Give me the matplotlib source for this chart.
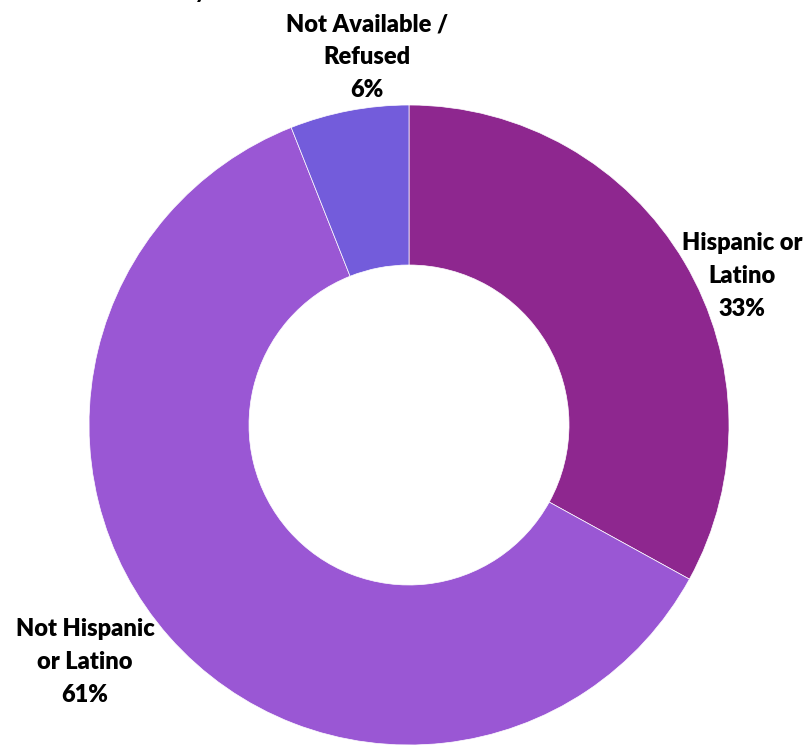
import matplotlib
matplotlib.use("Agg")
import matplotlib.pyplot as plt

# Ethnicity breakdown
categories = ["Hispanic or\nLatino", "Not Hispanic\nor Latino", "Not Available /\nRefused"]
shares = [33, 61, 6]
colors = ["#8E278F", "#9A57D4", "#735CDB"]

plt.rcParams["font.family"] = ["Lato", "DejaVu Sans"]

fig = plt.figure(figsize=(8.09, 7.47), dpi=100)
ax = fig.add_axes([0, 0, 1, 1])

# donut: start at 12 o'clock, go clockwise
ax.pie(shares, colors=colors, startangle=90, counterclock=False, radius=1.0,
       wedgeprops=dict(width=0.5, edgecolor="white", linewidth=0.5))

# frame the donut in the canvas (1 data unit = 320 px)
ax.set_xlim(-409 / 320, (809 - 409) / 320)
ax.set_ylim(-(747 - 425) / 320, 425 / 320)
ax.set_aspect("equal")
ax.axis("off")

label_pos = [(1.04, 0.466), (-1.0125, -0.74), (-0.131, 1.15)]
for name, val, (x, y) in zip(categories, shares, label_pos):
    ax.text(x, y, f"{name}\n{val}%", ha="center", va="center",
            fontsize=17, fontweight="heavy", linespacing=1.6)

# title sits mostly above the top edge
fig.text(207 / 809, 1 + 2 / 747, "Ethnicity", ha="right", va="baseline",
         fontsize=18, fontweight="bold")

fig.savefig("out.png", dpi=100)
